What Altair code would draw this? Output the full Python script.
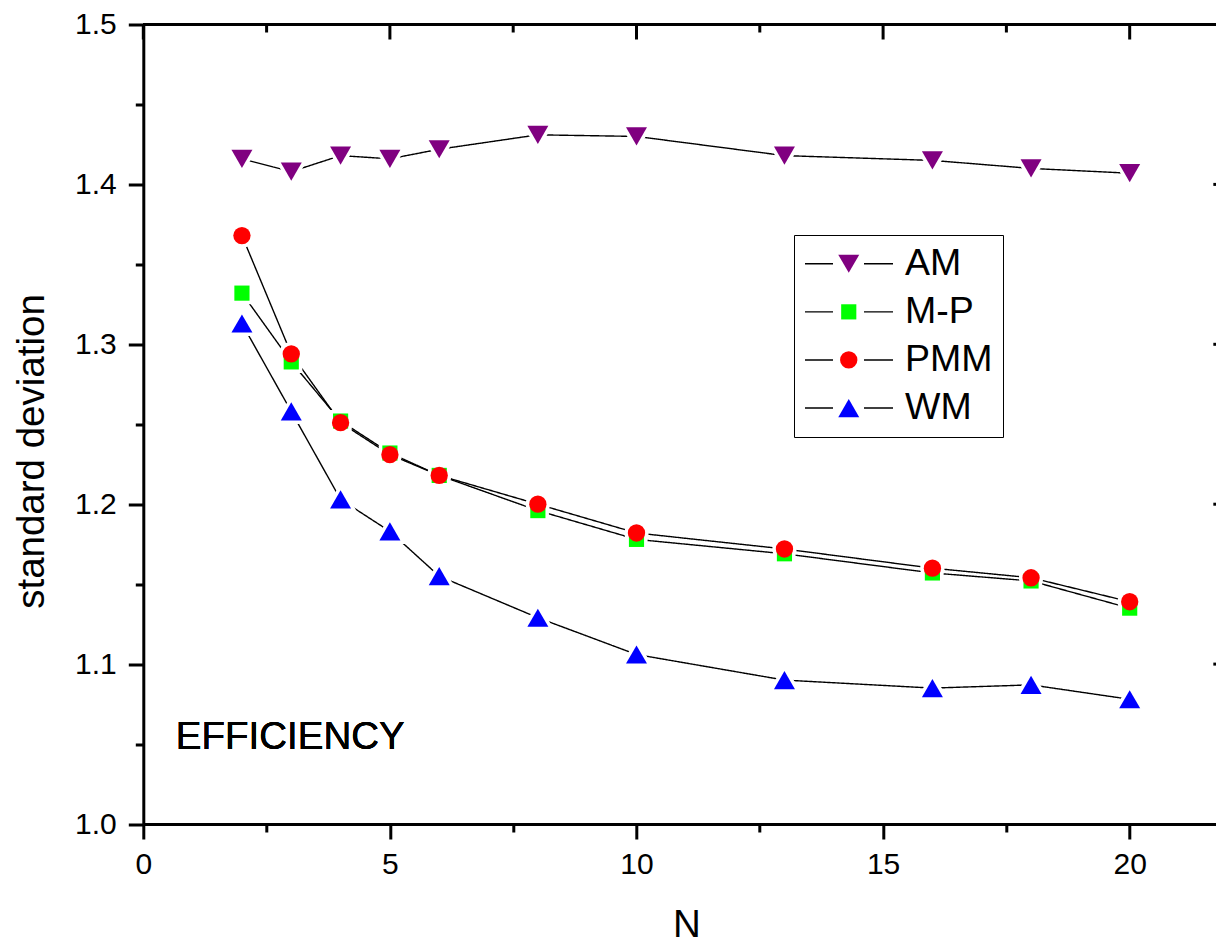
import altair as alt
import pandas as pd

# ---------------- data ----------------
N = [2, 3, 4, 5, 6, 8, 10, 13, 16, 18, 20]
AM = [1.416, 1.408, 1.418, 1.416, 1.422, 1.431, 1.430, 1.418, 1.415, 1.410, 1.407]
MP = [1.332, 1.289, 1.252, 1.232, 1.218, 1.196, 1.178, 1.169, 1.157, 1.152, 1.135]
PMM = [1.368, 1.294, 1.251, 1.231, 1.218, 1.200, 1.182, 1.172, 1.160, 1.154, 1.139]
WM = [1.313, 1.258, 1.203, 1.183, 1.155, 1.129, 1.106, 1.090, 1.085, 1.087, 1.078]

SERIES = ["AM", "M-P", "PMM", "WM"]
COLORS = ["#800080", "#00ff00", "#ff0000", "#0000ff"]
SHAPES = ["triangle-down", "square", "circle", "triangle-up"]
SIZES = [441, 230, 300, 441]

X_TICKS = [0, 2.5, 5, 7.5, 10, 12.5, 15, 17.5, 20]
Y_TICKS = [1.0, 1.05, 1.1, 1.15, 1.2, 1.25, 1.3, 1.35, 1.4, 1.45, 1.5]
RIGHT_TICKS = [1.1, 1.2, 1.3, 1.4]
X_MIN, X_MAX, RIGHT_AXIS = 0, 21.75, 22
Y_MIN, Y_MAX = 1.0, 1.5
ANNOT_TEXT = "EFFICIENCY"
ANNOT_X, ANNOT_Y = 0.66, 1.047

FONT = "Liberation Sans"

# ---------------- tables ----------------
rows = []
for name, vals in zip(SERIES, [AM, MP, PMM, WM]):
    for n, v in zip(N, vals):
        rows.append({"N": n, "sd": v, "series": name, "line": name})
df = pd.DataFrame(rows)

MAJOR_PX, MINOR_PX = 15, 8
PLOT_W, PLOT_H = 1072.7, 799.5
y_per_px = (Y_MAX - Y_MIN) / PLOT_H
x_per_px = (X_MAX - X_MIN) / PLOT_W
top_df = pd.DataFrame({
    "N": X_TICKS,
    "sd": [Y_MAX] * len(X_TICKS),
    "sd2": [Y_MAX - (MAJOR_PX if t % 5 == 0 else MINOR_PX) * y_per_px for t in X_TICKS],
})
right_df = pd.DataFrame({"sd": RIGHT_TICKS})

# ---------------- encodings ----------------
x_axis = alt.Axis(
    values=X_TICKS,
    labelExpr="datum.value % 5 == 0 ? datum.label : ''",
    tickSize={"condition": {"test": "datum.value % 5 == 0", "value": MAJOR_PX}, "value": MINOR_PX},
    labelPadding=10,
    labelFlush=False,
    title="N",
    titleX=543,
    titleY=112,
    titleBaseline="alphabetic",
    titleAlign="center",
)
y_axis = alt.Axis(
    values=Y_TICKS,
    labelExpr="abs(datum.value*10 - round(datum.value*10)) < 0.001 ? format(datum.value, '.1f') : ''",
    tickSize={"condition": {"test": "abs(datum.value*10 - round(datum.value*10)) < 0.001", "value": MAJOR_PX}, "value": MINOR_PX},
    labelPadding=12,
    labelFlush=False,
    title="standard deviation",
    titleAngle=270,
    titleX=-100,
    titleY=426.5,
    titleAlign="center",
    titleBaseline="alphabetic",
)
x_enc = alt.X("N:Q", scale=alt.Scale(domain=[X_MIN, X_MAX], nice=False, zero=False), axis=x_axis)
y_enc = alt.Y("sd:Q", scale=alt.Scale(domain=[Y_MIN, Y_MAX], nice=False, zero=False), axis=y_axis)

LEG_FONT = 37.5
leg_common = dict(
    orient="none", legendX=650.7, legendY=210.5, title=None,
    labelFont=FONT, labelFontSize=LEG_FONT, labelColor="black",
    rowPadding=9.1, padding=10, labelLimit=0, values=SERIES,
)
# marker legend (no label text; the line legend below carries the text)
LEG_P = alt.Legend(symbolOffset=26, symbolStrokeWidth=0, symbolSize=360, labelExpr="''", **leg_common)
# line legend: two short segments either side of the marker, plus the labels and frame
LEG_L = alt.Legend(
    symbolType="M-17.75,0H10.25M41.25,0H70.25", symbolSize=4,
    symbolStrokeColor="black", symbolStrokeWidth=1.4, symbolFillColor="transparent",
    labelOffset=63.5, strokeColor="black", **leg_common,
)

base = alt.Chart(df)

top_rule = alt.Chart(right_df).mark_rule(color="black", strokeWidth=3).encode(
    x=alt.datum(X_MIN), x2=alt.datum(X_MAX), y=alt.datum(Y_MAX)
)
top_ticks = alt.Chart(top_df).mark_rule(color="black", strokeWidth=3).encode(
    x=x_enc, y=y_enc, y2=alt.Y2("sd2:Q")
)
right_ticks = alt.Chart(right_df).mark_rule(color="black", strokeWidth=3).encode(
    x=alt.datum(RIGHT_AXIS - MAJOR_PX * x_per_px), x2=alt.datum(RIGHT_AXIS), y=y_enc
)

# the line scale gets one extra (unused) domain entry so that Vega-Lite keeps
# its legend separate from the marker legend instead of merging the two
lines = base.mark_line(color="black", strokeWidth=1.4).encode(
    x=x_enc, y=y_enc,
    strokeDash=alt.StrokeDash(
        "line:N",
        scale=alt.Scale(domain=SERIES + ["_"], range=[[1, 0]] * 5),
        legend=LEG_L,
    ),
)

# white halos under each marker make the small gaps where lines meet markers
halos = [
    base.transform_filter(alt.datum.series == name)
    .mark_point(filled=True, shape=shp, size=sz, color="white",
                stroke="white", strokeWidth=7, opacity=1)
    .encode(x=x_enc, y=y_enc)
    for name, shp, sz in zip(SERIES, SHAPES, SIZES)
]

shape_scale = alt.Scale(domain=SERIES, range=SHAPES)
size_scale = alt.Scale(type="ordinal", domain=SERIES, range=SIZES)
points = base.mark_point(filled=True, opacity=1, strokeWidth=0).encode(
    x=x_enc, y=y_enc,
    color=alt.Color("series:N", scale=alt.Scale(domain=SERIES, range=COLORS), legend=LEG_P),
    shape=alt.Shape("series:N", scale=shape_scale, legend=LEG_P),
    size=alt.Size("series:N", scale=size_scale, legend=LEG_P),
)

annot = alt.Chart(right_df).mark_text(
    align="left", baseline="alphabetic", font=FONT, fontSize=38.5, color="black"
).encode(x=alt.datum(ANNOT_X), y=alt.datum(ANNOT_Y), text=alt.value(ANNOT_TEXT))

chart = (
    alt.layer(top_rule, top_ticks, right_ticks, lines, *halos, points, annot)
    .properties(
        width=PLOT_W, height=PLOT_H,
        padding={"left": 143.3, "top": 24.5, "right": 0, "bottom": 115.5},
        autosize=alt.AutoSizeParams(type="none"),
        background="white",
    )
    .configure_view(stroke=None)
    .configure_axis(
        grid=False,
        domainColor="black", domainWidth=3,
        tickColor="black", tickWidth=3,
        labelFont=FONT, labelFontSize=30, labelColor="black",
        titleFont=FONT, titleFontSize=38.5, titleFontWeight="normal", titleColor="black",
    )
)

chart.save("out.html", embed_options={"renderer": "svg", "actions": False})
